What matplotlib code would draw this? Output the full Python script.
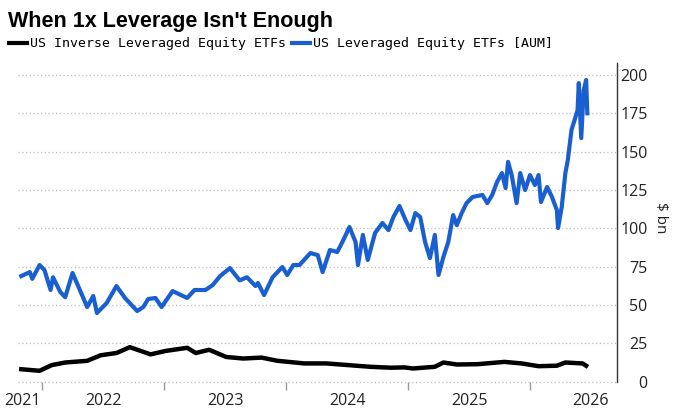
import matplotlib.pyplot as plt

# time in decimal years, AUM in $ bn
t_lev = [2021.83, 2021.90, 2021.92, 2021.98, 2022.02, 2022.07, 2022.09, 2022.15, 2022.19, 2022.25,
         2022.30, 2022.37, 2022.42, 2022.45, 2022.53, 2022.61, 2022.68, 2022.78, 2022.83, 2022.87,
         2022.93, 2022.98, 2023.07, 2023.19, 2023.25, 2023.34, 2023.40, 2023.46, 2023.54, 2023.62,
         2023.68, 2023.75, 2023.77, 2023.82, 2023.89, 2023.97, 2024.01, 2024.06, 2024.11, 2024.20,
         2024.26, 2024.30, 2024.36, 2024.42, 2024.47, 2024.52, 2024.57, 2024.59, 2024.63, 2024.67,
         2024.73, 2024.79, 2024.84, 2024.88, 2024.93, 2024.98, 2025.02, 2025.06, 2025.10, 2025.14,
         2025.18, 2025.22, 2025.25, 2025.29, 2025.33, 2025.37, 2025.40, 2025.44, 2025.48, 2025.53,
         2025.61, 2025.65, 2025.69, 2025.73, 2025.77, 2025.80, 2025.82, 2025.85, 2025.89, 2025.92,
         2025.96, 2026.00, 2026.04, 2026.07, 2026.09, 2026.14, 2026.18, 2026.22, 2026.23, 2026.26,
         2026.29, 2026.31, 2026.34, 2026.37, 2026.39, 2026.40, 2026.42, 2026.44, 2026.46, 2026.47]
aum_lev = [68.8, 71.4, 67, 76, 72.7, 59.7, 68, 58.4, 55, 70.8,
           61.6, 48.6, 55.8, 44.7, 51.2, 62.3, 54.5, 46, 48.6, 53.8,
           54.5, 48.6, 59, 54.5, 59.7, 59.7, 63, 68.8, 74, 66,
           68, 62.3, 64.3, 56.4, 68, 74.7, 69.5, 76, 76, 83.8,
           82.5, 71.4, 85.8, 84.5, 92.3, 100.8, 91, 76, 95.6, 79.3,
           96.9, 103.4, 98.8, 107.3, 114.5, 105.3, 98.8, 109.9, 107.3, 91,
           80.5, 95.6, 69.5, 81.2, 91, 108.6, 102, 109.9, 116.4, 120.4,
           121.7, 116.4, 121.7, 130.2, 136, 126.2, 143.3, 134.7, 116.4, 136,
           124.9, 134.7, 128.2, 134.7, 117.1, 126.9, 120.4, 111.9, 100.1, 113.8,
           136, 144.5, 164, 171.8, 177, 194.7, 158.8, 190, 196.7, 175]

t_inv = [2021.83, 2021.98, 2022.08, 2022.19, 2022.37, 2022.48, 2022.61, 2022.72, 2022.89, 2023.01,
         2023.19, 2023.26, 2023.37, 2023.51, 2023.65, 2023.80, 2023.93, 2024.15, 2024.33, 2024.51,
         2024.69, 2024.86, 2024.97, 2025.04, 2025.22, 2025.29, 2025.40, 2025.57, 2025.79, 2025.93,
         2026.07, 2026.22, 2026.29, 2026.43, 2026.46]
aum_inv = [8, 7, 10.7, 12.4, 13.5, 17.1, 18.6, 22.4, 17.7, 19.9,
           22, 18.6, 20.7, 16, 15, 15.6, 13.5, 11.8, 11.8, 10.7,
           9.6, 9, 9.2, 8.5, 9.6, 12.4, 11.1, 11.3, 12.8, 11.8,
           10, 10.3, 12.4, 11.8, 10.3]

year_starts = [2022, 2023, 2024, 2025, 2026]
year_label_pos = [2021.84, 2022.5, 2023.5, 2024.5, 2025.5, 2026.5]
year_labels = ['2021', '2022', '2023', '2024', '2025', '2026']
y_ticks = [0, 25, 50, 75, 100, 125, 150, 175, 200]

plt.rcParams['font.family'] = ['Open Sans', 'DejaVu Sans']

fig = plt.figure(figsize=(6.74, 4.15), dpi=100)
ax = fig.add_axes([0.0267, 0.0807, 0.8887, 0.7675])

inv_line, = ax.plot(t_inv, aum_inv, color='black', lw=3.2)
lev_line, = ax.plot(t_lev, aum_lev, color='#1a5fd0', lw=3.0)

ax.set_xlim(2021.803, 2026.713)
ax.set_ylim(0, 207.8)

for s in ['left', 'top', 'bottom']:
    ax.spines[s].set_visible(False)
ax.spines['right'].set_color('#333333')
ax.spines['right'].set_linewidth(1)

# y axis on the right
ax.yaxis.tick_right()
ax.set_yticks(y_ticks)
ax.tick_params(axis='y', length=0, pad=22, labelsize=11.5, labelcolor='#222222')
for lab in ax.get_yticklabels():
    lab.set_horizontalalignment('right')
ax.set_axisbelow(True)
ax.grid(axis='y', color='#bdbdbd', ls=(0, (1, 2)), lw=0.9)
for gl in ax.get_ygridlines():
    gl.set_clip_on(False)

# x axis: marks at year boundaries, labels centred in the year
ax.set_xticks(year_label_pos, year_labels)
ax.set_xticks(year_starts, minor=True)
ax.tick_params(axis='x', which='major', length=0, pad=8.5, labelsize=11.5, labelcolor='#222222')
ax.tick_params(axis='x', which='minor', length=6, width=1, color='#999999')

fig.text(661 / 674, 1 - 218 / 415, '$ bn', rotation=270, ha='center', va='center',
         fontsize=11, color='#222222')

fig.text(8 / 674, 1 - 27 / 415, "When 1x Leverage Isn't Enough", ha='left', va='baseline',
         fontsize=15.5, fontweight='bold', family='Liberation Sans')

leg = fig.legend([inv_line, lev_line],
                 ['US Inverse Leveraged Equity ETFs', 'US Leveraged Equity ETFs [AUM]'],
                 loc='center left', bbox_to_anchor=(9 / 674, 1 - 44 / 415), ncol=2,
                 frameon=False, borderpad=0, borderaxespad=0, handlelength=1.35,
                 handletextpad=0.25, columnspacing=0.45,
                 prop={'family': 'DejaVu Sans Mono', 'size': 9.5})
for h in leg.legend_handles:
    h.set_linewidth(3)

fig.savefig('out.png', dpi=100)
